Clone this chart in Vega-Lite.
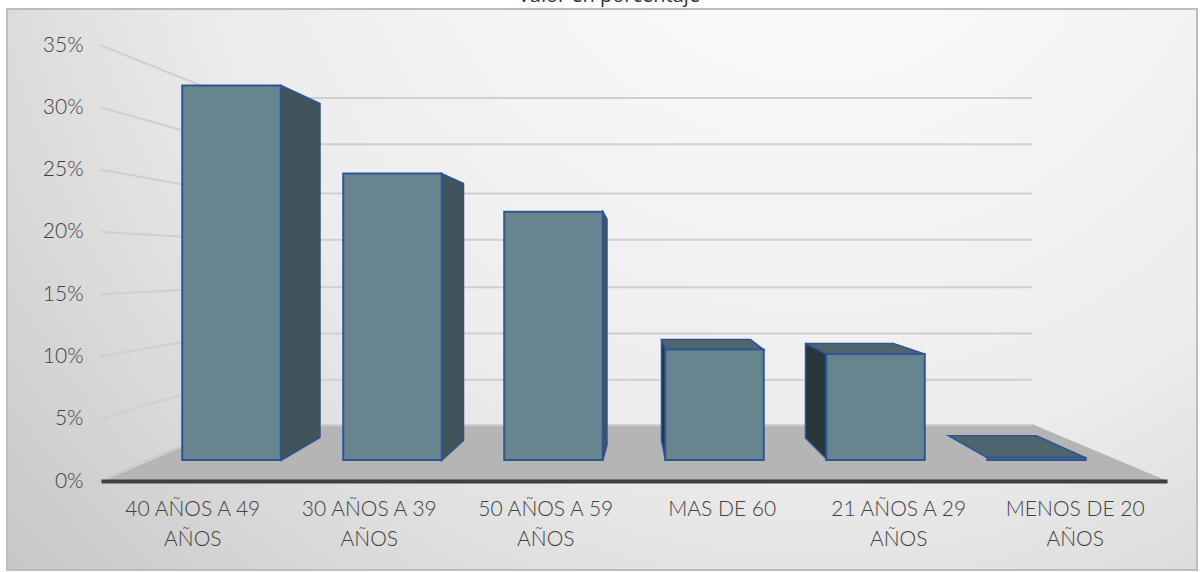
{"$schema":"https://vega.github.io/schema/vega-lite/v6.json","autosize":{"type":"none"},"width":1190,"height":561,"padding":{"left":7,"top":9,"right":7,"bottom":2},"background":"#ffffff","view":{"fill":{"gradient":"radial","x1":0.68,"y1":0.12,"r1":0,"x2":0.68,"y2":0.12,"r2":0.95,"stops":[{"offset":0,"color":"#ffffff"},{"offset":0.55,"color":"#ececec"},{"offset":1,"color":"#c4c4c4"}]},"stroke":"#bdbdbd","strokeWidth":2},"title":{"text":"Valor en porcentaje","font":"Open Sans","fontSize":20,"fontWeight":"normal","color":"#333333","anchor":"middle","offset":3,"dx":7,"frame":"group"},"config":{"font":"Lato"},"datasets":{"edades":[{"categoria":"40 AÑOS A 49 AÑOS","valor":0.332},{"categoria":"30 AÑOS A 39 AÑOS","valor":0.254},{"categoria":"50 AÑOS A 59 AÑOS","valor":0.22},{"categoria":"MAS DE 60","valor":0.098},{"categoria":"21 AÑOS A 29 AÑOS","valor":0.094},{"categoria":"MENOS DE 20 AÑOS","valor":0.002}],"marcas":[{"pct":0},{"pct":0.05},{"pct":0.1},{"pct":0.15},{"pct":0.2},{"pct":0.25},{"pct":0.3},{"pct":0.35}]},"data":{"name":"edades"},"resolve":{"scale":{"x":"independent","y":"independent","shape":"independent","color":"independent"},"axis":{"x":"independent","y":"independent"}},"layer":[{"transform":[{"filter":"datum.categoria === '40 AÑOS A 49 AÑOS'"}],"mark":{"type":"point","filled":true,"fill":"#b5b5b5","stroke":"#b5b5b5","opacity":1,"size":4,"shape":"M-93,0 L39,-56 L839,-56 L972,0 Z"},"encoding":{"x":{"field":"categoria","type":"nominal","sort":null,"scale":{"type":"band","domain":["40 AÑOS A 49 AÑOS","30 AÑOS A 39 AÑOS","50 AÑOS A 59 AÑOS","MAS DE 60","21 AÑOS A 29 AÑOS","MENOS DE 20 AÑOS"],"range":[94,1160],"paddingInner":0,"paddingOuter":0.02},"axis":{"title":null,"orient":"bottom","offset":-89,"zindex":1,"ticks":false,"domain":true,"domainColor":"#404040","domainWidth":4,"grid":false,"labelAngle":0,"labelFont":"Lato","labelFontSize":21,"labelFontWeight":300,"labelColor":"#404040","labelPadding":17,"labelLineHeight":30,"labelLimit":200,"labelExpr":"datum.label === 'MAS DE 60' ? datum.label : [substring(datum.label,0,lastindexof(datum.label,' ')),substring(datum.label,lastindexof(datum.label,' ')+1)]"}},"y":{"datum":0,"type":"quantitative","scale":{"domain":[0,0.35],"range":[472,36],"nice":false},"axis":{"title":null,"orient":"left","offset":-93,"zindex":1,"values":[0,0.05,0.1,0.15,0.2,0.25,0.3,0.35],"format":".0%","ticks":false,"domain":false,"grid":false,"labelFont":"Lato","labelFontSize":21,"labelFontWeight":300,"labelColor":"#404040","labelPadding":17}}}},{"data":{"name":"marcas"},"mark":{"type":"point","filled":false,"stroke":"#cfcfcf","strokeWidth":2,"opacity":1,"size":4},"encoding":{"x":{"datum":0,"type":"quantitative","scale":{"domain":[0,1],"range":[93,1158]},"axis":null},"y":{"field":"pct","type":"quantitative","scale":{"domain":[0,0.35],"range":[472,36],"nice":false},"axis":null},"shape":{"field":"pct","type":"nominal","legend":null,"scale":{"domain":[0,0.05,0.1,0.15,0.2,0.25,0.3,0.35],"range":["M0,0 L132,-56 L932,-56","M0,0 L132,-39 L932,-39","M0,0 L132,-23 L932,-23","M0,0 L132,-7 L932,-7","M0,0 L132,8 L932,8","M0,0 L132,24 L932,24","M0,0 L132,37 L932,37","M0,0 L132,53 L932,53"]}}}},{"transform":[{"filter":"datum.categoria !== 'MENOS DE 20 AÑOS'"}],"mark":{"type":"point","filled":true,"opacity":1,"size":4,"stroke":"#2f5597","strokeWidth":1.5},"encoding":{"x":{"field":"categoria","type":"nominal","sort":null,"scale":{"type":"band","domain":["40 AÑOS A 49 AÑOS","30 AÑOS A 39 AÑOS","50 AÑOS A 59 AÑOS","MAS DE 60","21 AÑOS A 29 AÑOS","MENOS DE 20 AÑOS"],"range":[144,1110],"paddingInner":0.388,"paddingOuter":0.194},"axis":null},"y":{"field":"valor","type":"quantitative","scale":{"domain":[0,0.35],"range":[451,56.2],"nice":false},"axis":null},"shape":{"field":"categoria","type":"nominal","legend":null,"scale":{"domain":["40 AÑOS A 49 AÑOS","30 AÑOS A 39 AÑOS","50 AÑOS A 59 AÑOS","MAS DE 60","21 AÑOS A 29 AÑOS"],"range":["M49.5,0 L88.5,18 L88.5,352 L49.5,375 Z","M49,0 L71,10 L71,267 L49,287 Z","M49.5,0 L53.5,7 L53.5,233 L49.5,248 Z","M-49,0 L-53,-10 L-53,91 L-49,111 Z","M-49,0 L-70,-10.5 L-70,84 L-49,105 Z"]}},"color":{"field":"categoria","type":"nominal","legend":null,"scale":{"domain":["40 AÑOS A 49 AÑOS","30 AÑOS A 39 AÑOS","50 AÑOS A 59 AÑOS","MAS DE 60","21 AÑOS A 29 AÑOS"],"range":["#41545b","#41545b","#41545b","#27363c","#27363c"]}}}},{"transform":[{"filter":"datum.valor < 0.11"}],"mark":{"type":"point","filled":true,"fill":"#4d656c","opacity":1,"size":4,"stroke":"#2f5597","strokeWidth":1.5},"encoding":{"x":{"field":"categoria","type":"nominal","sort":null,"scale":{"type":"band","domain":["40 AÑOS A 49 AÑOS","30 AÑOS A 39 AÑOS","50 AÑOS A 59 AÑOS","MAS DE 60","21 AÑOS A 29 AÑOS","MENOS DE 20 AÑOS"],"range":[144,1110],"paddingInner":0.388,"paddingOuter":0.194},"axis":null},"y":{"field":"valor","type":"quantitative","scale":{"domain":[0,0.35],"range":[451,56.2],"nice":false},"axis":null},"shape":{"field":"categoria","type":"nominal","legend":null,"scale":{"domain":["MAS DE 60","21 AÑOS A 29 AÑOS","MENOS DE 20 AÑOS"],"range":["M-49,0 L-53,-10 L36,-10 L49,0 Z","M-49,0 L-70,-10.5 L18,-10.5 L49,0 Z","M-49,0 L-88,-22 L0,-22 L49,0 Z"]}}}},{"mark":{"type":"bar","fill":"#67858f","stroke":"#2f5597","strokeWidth":2},"encoding":{"x":{"field":"categoria","type":"nominal","sort":null,"scale":{"type":"band","domain":["40 AÑOS A 49 AÑOS","30 AÑOS A 39 AÑOS","50 AÑOS A 59 AÑOS","MAS DE 60","21 AÑOS A 29 AÑOS","MENOS DE 20 AÑOS"],"range":[144,1110],"paddingInner":0.388,"paddingOuter":0.194},"axis":null},"y":{"field":"valor","type":"quantitative","scale":{"domain":[0,0.35],"range":[451,56.2],"nice":false},"axis":null}}}]}
